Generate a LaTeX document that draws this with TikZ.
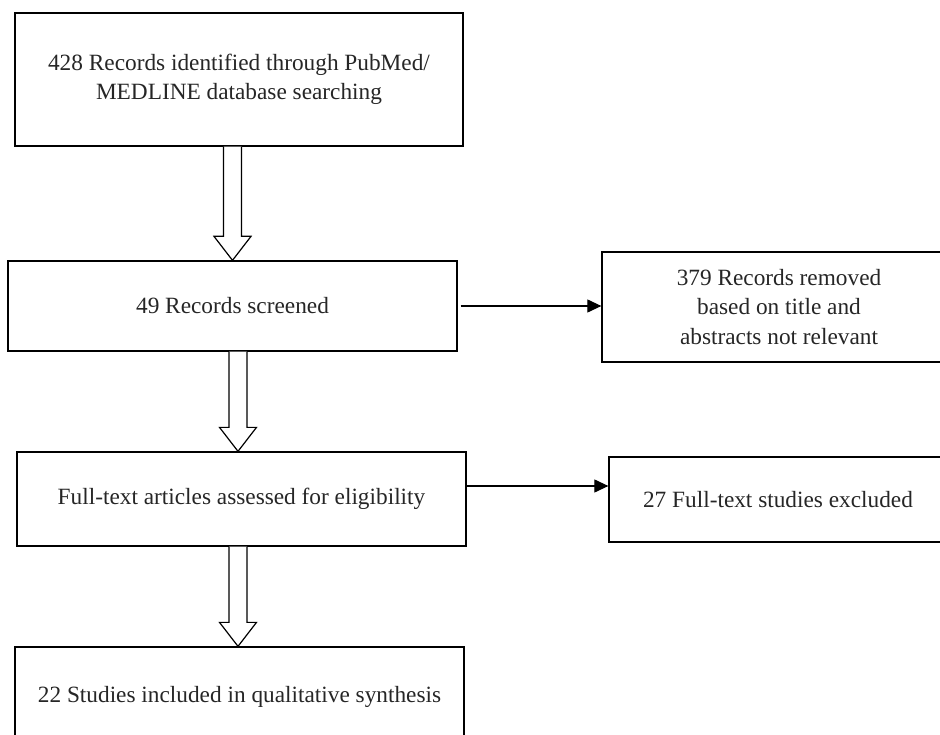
\documentclass[tikz,border=0pt]{standalone}
\usepackage{fontspec}
\setmainfont{Liberation Serif}
\usetikzlibrary{calc,arrows.meta}
\newcommand\myhollow[3]{%
  \draw[hollowarrow] let \p1=([xshift=#3]#2.north), \p2=(#1.south) in
    (\x1-9pt,\y2) -- (\x1-9pt,\y1+24pt) -- (\x1-18.5pt,\y1+24pt) -- (\x1,\y1)
    -- (\x1+18.5pt,\y1+24pt) -- (\x1+9pt,\y1+24pt) -- (\x1+9pt,\y2);}
\begin{document}
\begin{tikzpicture}[x=1pt,y=-1pt,
  box/.style={draw, line width=1.3pt, inner sep=0pt, align=center,
    font=\fontsize{23.3}{29.5}\selectfont, text=black!85},
  hollowarrow/.style={draw, fill=white, line width=1.2pt, line join=miter},
  thinarrow/.style={line width=1.2pt, -{Triangle[length=14pt,width=13pt]}}]
\useasboundingbox (0,0) rectangle (940,735);
\clip (0,0) rectangle (940,735);
\fill[white] (0,0) rectangle (940,735);
\node[box, minimum width=448pt, minimum height=133pt] (b1) at (239,79.5)
  {428 Records identified through PubMed/\\MEDLINE database searching};
\node[box, minimum width=449pt, minimum height=90pt] (b2) at (232.5,306)
  {49 Records screened};
\node[box, minimum width=354pt, minimum height=110pt] (b3) at (779,307)
  {379 Records removed\\based on title and\\abstracts not relevant};
\node[box, minimum width=449pt, minimum height=94pt] (b4) at (241.5,499)
  {Full-text articles assessed for eligibility};
\node[box, minimum width=338pt, minimum height=85pt] (b5) at (778,499.5)
  {27 Full-text studies excluded};
\node[box, minimum width=449pt, minimum height=100pt] (b6) at (239.5,697)
  {22 Studies included in qualitative synthesis};
\myhollow{b1}{b2}{0pt}
\myhollow{b2}{b4}{-3.5pt}
\myhollow{b4}{b6}{-1.5pt}
\draw[thinarrow] ([xshift=3pt]b2.east) -- (b2.east -| b3.west);
\draw[thinarrow] ([yshift=13pt]b4.east) -- ([yshift=13pt]b4.east -| b5.west);
\end{tikzpicture}
\end{document}
